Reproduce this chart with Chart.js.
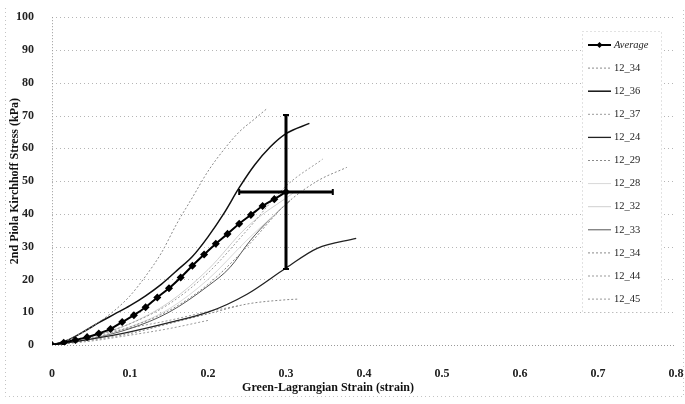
<!DOCTYPE html>
<html><head><meta charset="utf-8">
<script src="https://cdn.jsdelivr.net/npm/chart.js@4/dist/chart.umd.min.js"></script>
<style>html,body{margin:0;padding:0;background:#fff}#wrap{width:685px;height:404px;position:relative}</style>
</head><body><div id="wrap"><canvas id="c" width="685" height="404"></canvas></div>
<script>
const xTickLabels = ['0','0.1','0.2','0.3','0.4','0.5','0.6','0.7','0.8'];
const yTickLabels = ['0','10','20','30','40','50','60','70','80','90','100'];
const seriesNames = ['Average','12_34','12_36','12_37','12_24','12_29','12_28','12_32','12_33','12_34','12_44','12_45'];

const avgX = [0,0.015,0.03,0.045,0.06,0.075,0.09,0.105,0.12,0.135,0.15,0.165,0.18,0.195,0.21,0.225,0.24,0.255,0.27,0.285,0.30];
const avgY = [0,0.7,1.5,2.4,3.5,4.9,7.0,9.1,11.5,14.5,17.3,20.6,24.2,27.6,30.9,33.9,37.0,39.7,42.4,44.5,46.7];
const avgErrX = 0.06;
const avgErrY = 23.5;

const s1X = [0,0.02,0.04,0.06,0.08,0.1,0.12,0.14,0.16,0.18,0.2,0.22,0.24,0.26,0.275];
const s1Y = [0,1.5,4,7,10.5,15,21,28,37,45,53,59.5,65,69,72];
const s2X = [0,0.02,0.04,0.06,0.08,0.1,0.12,0.14,0.16,0.18,0.2,0.22,0.24,0.26,0.28,0.3,0.33];
const s2Y = [0,1.5,4,6.8,9.4,12,15,18.5,22.7,27,33,40,48,55,60.5,64.5,67.6];
const s3X = [0,0.05,0.1,0.15,0.2,0.25,0.3,0.347];
const s3Y = [0,2.5,6.5,12.5,22,35,48.5,56.7];
const s4X = [0,0.05,0.1,0.15,0.2,0.25,0.3,0.34,0.39];
const s4Y = [0,1.8,4,6.8,10,15.5,23.5,29.5,32.5];
const s5X = [0,0.05,0.1,0.15,0.2,0.25,0.3,0.34,0.378];
const s5Y = [0,2,5.5,10.5,18.5,30,43,50,54.2];
const s6X = [0,0.05,0.1,0.15,0.2,0.25,0.3];
const s6Y = [0,2,5.5,11,20,32,43];
const s7X = [0,0.05,0.1,0.15,0.2,0.25,0.31];
const s7Y = [0,2.5,6.5,13,23,36,46.5];
const s8X = [0,0.05,0.1,0.15,0.2,0.228,0.254,0.28,0.305];
const s8Y = [0,2,5,10,18,23.6,31.8,38.5,44];
const s9X = [0,0.05,0.1,0.15,0.2,0.25,0.3,0.315];
const s9Y = [0,1.5,3.5,6.5,9.5,12.5,13.8,14];
const s10X = [0,0.05,0.1,0.15,0.2,0.24];
const s10Y = [0,2.8,5.2,7.5,10.2,12];
const s11X = [0,0.05,0.1,0.15,0.2];
const s11Y = [0,1.2,3,5,7.5];

const pts = (xs, ys) => xs.map((x, i) => ({x, y: ys[i]}));
const styles = [
  {c:'#000', w:2, d:[]},
  {c:'#8a8a8a', w:1, d:[2,2]},
  {c:'#111', w:1.5, d:[]},
  {c:'#9a9a9a', w:1, d:[2,2]},
  {c:'#222', w:1.3, d:[]},
  {c:'#8a8a8a', w:1, d:[2,2]},
  {c:'#d8d8d8', w:1, d:[]},
  {c:'#cfcfcf', w:1, d:[]},
  {c:'#555', w:1, d:[]},
  {c:'#8a8a8a', w:1, d:[2,2]},
  {c:'#9a9a9a', w:1, d:[2,2]},
  {c:'#9a9a9a', w:1, d:[2,2]}
];
const allX = [avgX,s1X,s2X,s3X,s4X,s5X,s6X,s7X,s8X,s9X,s10X,s11X];
const allY = [avgY,s1Y,s2Y,s3Y,s4Y,s5Y,s6Y,s7Y,s8Y,s9Y,s10Y,s11Y];

const datasets = seriesNames.map((n, i) => ({
  label: n,
  data: pts(allX[i], allY[i]),
  borderColor: styles[i].c,
  backgroundColor: styles[i].c,
  borderWidth: styles[i].w,
  borderDash: styles[i].d,
  pointRadius: i === 0 ? 2.6 : 0,
  pointStyle: 'rectRot',
  pointBackgroundColor: '#000',
  pointBorderColor: '#000',
  cubicInterpolationMode: 'monotone',
  order: i === 0 ? 0 : 1
}));

const FONT = '"Liberation Serif", "DejaVu Serif", serif';

const decor = {
  id: 'decor',
  beforeDatasetsDraw(chart) {
    const ctx = chart.ctx, xs = chart.scales.x, ys = chart.scales.y, a = chart.chartArea;
    ctx.save();
    ctx.strokeStyle = '#b5b5b5'; ctx.lineWidth = 1; ctx.setLineDash([1,3]);
    for (let v = 10; v <= 100; v += 10) {
      const y = Math.round(ys.getPixelForValue(v)) + 0.5;
      ctx.beginPath(); ctx.moveTo(a.left, y); ctx.lineTo(a.right, y); ctx.stroke();
    }
    ctx.strokeStyle = '#999'; ctx.setLineDash([1,2]);
    ctx.beginPath(); ctx.moveTo(a.left + 0.5, a.top); ctx.lineTo(a.left + 0.5, a.bottom); ctx.stroke();
    ctx.beginPath(); ctx.moveTo(a.left, a.bottom + 0.5); ctx.lineTo(a.right, a.bottom + 0.5); ctx.stroke();
    ctx.strokeStyle = '#c4c4c4'; ctx.setLineDash([1,3]);
    ctx.beginPath(); ctx.moveTo(5.5, 8); ctx.lineTo(5.5, 396.5); ctx.lineTo(683.5, 396.5); ctx.lineTo(683.5, 8); ctx.stroke();
    ctx.restore();
  },
  afterDatasetsDraw(chart) {
    const ctx = chart.ctx, xs = chart.scales.x, ys = chart.scales.y;
    const n = avgX.length - 1;
    const cx = xs.getPixelForValue(avgX[n]), cy = ys.getPixelForValue(avgY[n]);
    const x1 = xs.getPixelForValue(avgX[n] - avgErrX), x2 = xs.getPixelForValue(avgX[n] + avgErrX);
    const y1 = ys.getPixelForValue(avgY[n] + avgErrY), y2 = ys.getPixelForValue(avgY[n] - avgErrY);
    ctx.save();
    ctx.strokeStyle = '#000'; ctx.lineWidth = 3; ctx.setLineDash([]);
    ctx.beginPath(); ctx.moveTo(cx, y1); ctx.lineTo(cx, y2); ctx.moveTo(x1, cy); ctx.lineTo(x2, cy); ctx.stroke();
    ctx.lineWidth = 2;
    ctx.beginPath();
    ctx.moveTo(cx - 3, y1); ctx.lineTo(cx + 3, y1);
    ctx.moveTo(cx - 3, y2); ctx.lineTo(cx + 3, y2);
    ctx.moveTo(x1, cy - 3); ctx.lineTo(x1, cy + 3);
    ctx.moveTo(x2, cy - 3); ctx.lineTo(x2, cy + 3);
    ctx.stroke();
    ctx.restore();
  },
  afterDraw(chart) {
    const ctx = chart.ctx, a = chart.chartArea;
    ctx.save();
    const L = 582, T = 31, R = 661, B = 312;
    ctx.fillStyle = '#fff'; ctx.fillRect(L, T, R - L, B - T);
    ctx.strokeStyle = '#c4c4c4'; ctx.lineWidth = 1; ctx.setLineDash([1,3]);
    ctx.strokeRect(L + 0.5, T + 0.5, R - L, B - T);
    chart.data.datasets.forEach((ds, i) => {
      const y = 45 + i * 23.1;
      ctx.setLineDash(ds.borderDash || []);
      ctx.strokeStyle = ds.borderColor; ctx.lineWidth = ds.borderWidth;
      ctx.beginPath(); ctx.moveTo(588, y); ctx.lineTo(611, y); ctx.stroke();
      if (i === 0) {
        ctx.setLineDash([]); ctx.fillStyle = '#000';
        ctx.beginPath(); ctx.moveTo(599.5, y - 3); ctx.lineTo(602.5, y); ctx.lineTo(599.5, y + 3); ctx.lineTo(596.5, y); ctx.closePath(); ctx.fill();
      }
      ctx.setLineDash([]);
      ctx.fillStyle = '#222'; ctx.font = (i === 0 ? 'italic ' : '') + '10.5px ' + FONT;
      ctx.textAlign = 'left'; ctx.textBaseline = 'middle';
      ctx.fillText(ds.label, 614, y);
    });
    ctx.fillStyle = '#111'; ctx.font = 'bold 12px ' + FONT;
    ctx.textAlign = 'center'; ctx.textBaseline = 'middle';
    ctx.fillText('Green-Lagrangian Strain (strain)', 328, 388);
    ctx.translate(15, (a.top + a.bottom) / 2);
    ctx.rotate(-Math.PI / 2);
    ctx.fillText('2nd Piola Kirchhoff Stress (kPa)', 0, 0);
    ctx.restore();
  }
};

new Chart(document.getElementById('c'), {
  type: 'line',
  data: { datasets },
  options: {
    responsive: false,
    animation: false,
    layout: { padding: { top: 15, right: 0, left: 0, bottom: 0 } },
    plugins: { legend: { display: false }, tooltip: { enabled: false }, title: { display: false } },
    scales: {
      x: {
        type: 'linear', min: 0, max: 0.8,
        ticks: { stepSize: 0.1, padding: 14, color: '#222', font: { family: FONT, size: 12, weight: 'bold' },
          maxRotation: 0, autoSkip: false,
          callback: (v, i) => xTickLabels[i] },
        grid: { display: false }, border: { display: false },
        afterFit: s => { s.height = 59; s.paddingRight = 9; }
      },
      y: {
        type: 'linear', min: 0, max: 100,
        ticks: { stepSize: 10, padding: 10, color: '#222', font: { family: FONT, size: 12, weight: 'bold' },
          callback: (v, i) => yTickLabels[i] },
        grid: { display: false }, border: { display: false },
        afterFit: s => { s.width = 52; }
      }
    }
  },
  plugins: [decor]
});
</script></body></html>
